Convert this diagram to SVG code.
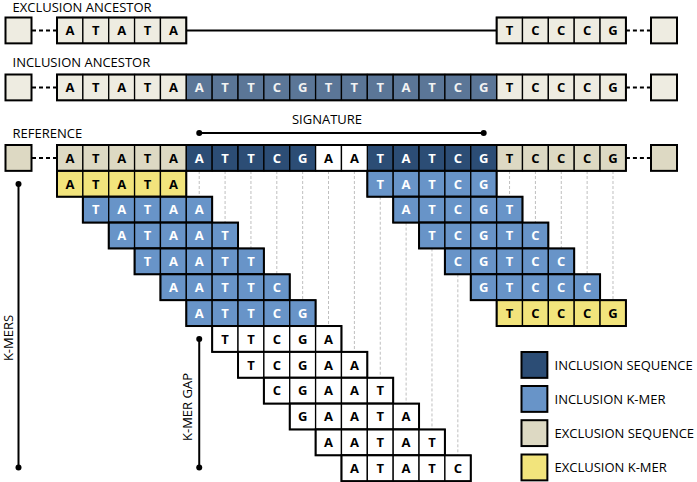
<svg xmlns="http://www.w3.org/2000/svg" width="697" height="482" viewBox="0 0 697 482">
<style>
.lbl{font-family:"Open Sans","Liberation Sans",sans-serif;font-size:13px;fill:#000}
.b{font-family:"Open Sans","Liberation Sans",sans-serif;font-size:13px;font-weight:700;text-anchor:middle}
.k{fill:#000}.w{fill:#fff}
.c{stroke:#000;stroke-width:1.3}
.o{fill:none;stroke:#000;stroke-width:2}
.exA{fill:#EEECE1}.exR{fill:#DDD9C3}.inA{fill:#5B7697}.inR{fill:#2C4D75}.km{fill:#6894C8}.ye{fill:#F2E47C}.wh{fill:#fff}
.dash{stroke:#000;stroke-width:2;stroke-dasharray:4 3}
.g{stroke:#BFBFBF;stroke-width:1;stroke-dasharray:3 2}
.ln{stroke:#000;stroke-width:2}
</style>
<defs>
<rect id="cell" width="25.86" height="25.86"/>
</defs>

<g id="labels">
<text class="lbl" x="12.5" y="12">EXCLUSION ANCESTOR</text>
<text class="lbl" x="12.5" y="66.5">INCLUSION ANCESTOR</text>
<text class="lbl" x="12.5" y="138">REFERENCE</text>
<text class="lbl" x="327" y="123.5" text-anchor="middle">SIGNATURE</text>
<text class="lbl" transform="translate(12.5,338) rotate(-90)" text-anchor="middle">K-MERS</text>
<text class="lbl" transform="translate(192,407) rotate(-90)" text-anchor="middle">K-MER GAP</text>
</g>

<g id="connectors">
<line class="dash" x1="32" y1="30.4" x2="57" y2="30.4"/>
<line class="ln" x1="186.3" y1="30.4" x2="496.62" y2="30.4"/>
<line class="dash" x1="625.92" y1="30.4" x2="651" y2="30.4"/>
<line class="dash" x1="32" y1="87.4" x2="57" y2="87.4"/>
<line class="dash" x1="625.92" y1="87.4" x2="651" y2="87.4"/>
<line class="dash" x1="32" y1="157.9" x2="57" y2="157.9"/>
<line class="dash" x1="625.92" y1="157.9" x2="651" y2="157.9"/>
<line class="ln" x1="199.23" y1="133" x2="483.69" y2="133"/>
<circle cx="199.23" cy="133" r="3"/><circle cx="483.69" cy="133" r="3"/>
<line class="ln" x1="18.5" y1="184" x2="18.5" y2="467.5"/>
<circle cx="18.5" cy="184" r="3"/><circle cx="18.5" cy="467.5" r="3"/>
<line class="ln" x1="199.23" y1="339" x2="199.23" y2="467.5"/>
<circle cx="199.23" cy="339" r="3"/><circle cx="199.23" cy="467.5" r="3"/>
<g id="guides">
<line class="g" x1="199.23" y1="171" x2="199.23" y2="196.72"/>
<line class="g" x1="225.09" y1="171" x2="225.09" y2="222.58"/>
<line class="g" x1="250.95" y1="171" x2="250.95" y2="248.44"/>
<line class="g" x1="276.81" y1="171" x2="276.81" y2="274.3"/>
<line class="g" x1="302.67" y1="171" x2="302.67" y2="300.16"/>
<line class="g" x1="328.53" y1="171" x2="328.53" y2="326.02"/>
<line class="g" x1="354.39" y1="171" x2="354.39" y2="351.88"/>
<line class="g" x1="380.25" y1="196.72" x2="380.25" y2="377.74"/>
<line class="g" x1="406.11" y1="222.58" x2="406.11" y2="403.6"/>
<line class="g" x1="431.97" y1="248.44" x2="431.97" y2="429.46"/>
<line class="g" x1="457.83" y1="274.3" x2="457.83" y2="455.32"/>
<line class="g" x1="509.55" y1="171" x2="509.55" y2="196.72"/>
<line class="g" x1="535.41" y1="171" x2="535.41" y2="222.58"/>
<line class="g" x1="561.27" y1="171" x2="561.27" y2="248.44"/>
<line class="g" x1="587.13" y1="171" x2="587.13" y2="274.3"/>
<line class="g" x1="612.99" y1="171" x2="612.99" y2="300.16"/>
</g>
</g>

<g id="exclusion-ancestor">
<rect class="o" x="5.5" y="17.5" width="26" height="25.86" style="fill:#EEECE1"/>
<rect class="o" x="651" y="17.5" width="26" height="25.86" style="fill:#EEECE1"/>
<g class="exA c">
<use href="#cell" x="57" y="17.5"/><use href="#cell" x="82.86" y="17.5"/><use href="#cell" x="108.72" y="17.5"/><use href="#cell" x="134.58" y="17.5"/><use href="#cell" x="160.44" y="17.5"/>
<use href="#cell" x="496.62" y="17.5"/><use href="#cell" x="522.48" y="17.5"/><use href="#cell" x="548.34" y="17.5"/><use href="#cell" x="574.2" y="17.5"/><use href="#cell" x="600.06" y="17.5"/>
</g>
<rect class="o" x="57" y="17.5" width="129.3" height="25.86"/>
<rect class="o" x="496.62" y="17.5" width="129.3" height="25.86"/>
<g class="b k">
<text x="69.93" y="35.1">A</text><text x="95.79" y="35.1">T</text><text x="121.65" y="35.1">A</text><text x="147.51" y="35.1">T</text><text x="173.37" y="35.1">A</text>
<text x="509.55" y="35.1">T</text><text x="535.41" y="35.1">C</text><text x="561.27" y="35.1">C</text><text x="587.13" y="35.1">C</text><text x="612.99" y="35.1">G</text>
</g>
</g>

<g id="inclusion-ancestor">
<rect class="o" x="5.5" y="74.5" width="26" height="25.86" style="fill:#EEECE1"/>
<rect class="o" x="651" y="74.5" width="26" height="25.86" style="fill:#EEECE1"/>
<g class="exA c">
<use href="#cell" x="57" y="74.5"/><use href="#cell" x="82.86" y="74.5"/><use href="#cell" x="108.72" y="74.5"/><use href="#cell" x="134.58" y="74.5"/><use href="#cell" x="160.44" y="74.5"/>
<use href="#cell" x="496.62" y="74.5"/><use href="#cell" x="522.48" y="74.5"/><use href="#cell" x="548.34" y="74.5"/><use href="#cell" x="574.2" y="74.5"/><use href="#cell" x="600.06" y="74.5"/>
</g>
<g class="inA c">
<use href="#cell" x="186.3" y="74.5"/><use href="#cell" x="212.16" y="74.5"/><use href="#cell" x="238.02" y="74.5"/><use href="#cell" x="263.88" y="74.5"/><use href="#cell" x="289.74" y="74.5"/><use href="#cell" x="315.6" y="74.5"/>
<use href="#cell" x="341.46" y="74.5"/><use href="#cell" x="367.32" y="74.5"/><use href="#cell" x="393.18" y="74.5"/><use href="#cell" x="419.04" y="74.5"/><use href="#cell" x="444.9" y="74.5"/><use href="#cell" x="470.76" y="74.5"/>
</g>
<rect class="o" x="57" y="74.5" width="568.92" height="25.86"/>
<g class="b k">
<text x="69.93" y="92.1">A</text><text x="95.79" y="92.1">T</text><text x="121.65" y="92.1">A</text><text x="147.51" y="92.1">T</text><text x="173.37" y="92.1">A</text>
<text x="509.55" y="92.1">T</text><text x="535.41" y="92.1">C</text><text x="561.27" y="92.1">C</text><text x="587.13" y="92.1">C</text><text x="612.99" y="92.1">G</text>
</g>
<g class="b w" style="fill:#F2F2F2">
<text x="199.23" y="92.1">A</text><text x="225.09" y="92.1">T</text><text x="250.95" y="92.1">T</text><text x="276.81" y="92.1">C</text><text x="302.67" y="92.1">G</text><text x="328.53" y="92.1">T</text>
<text x="354.39" y="92.1">T</text><text x="380.25" y="92.1">T</text><text x="406.11" y="92.1">A</text><text x="431.97" y="92.1">T</text><text x="457.83" y="92.1">C</text><text x="483.69" y="92.1">G</text>
</g>
</g>

<g id="reference">
<rect class="o" x="5.5" y="145" width="26" height="25.86" style="fill:#DDD9C3"/>
<rect class="o" x="651" y="145" width="26" height="25.86" style="fill:#DDD9C3"/>
<g class="exR c">
<use href="#cell" x="57" y="145"/><use href="#cell" x="82.86" y="145"/><use href="#cell" x="108.72" y="145"/><use href="#cell" x="134.58" y="145"/><use href="#cell" x="160.44" y="145"/>
<use href="#cell" x="496.62" y="145"/><use href="#cell" x="522.48" y="145"/><use href="#cell" x="548.34" y="145"/><use href="#cell" x="574.2" y="145"/><use href="#cell" x="600.06" y="145"/>
</g>
<g class="inR c">
<use href="#cell" x="186.3" y="145"/><use href="#cell" x="212.16" y="145"/><use href="#cell" x="238.02" y="145"/><use href="#cell" x="263.88" y="145"/><use href="#cell" x="289.74" y="145"/>
<use href="#cell" x="367.32" y="145"/><use href="#cell" x="393.18" y="145"/><use href="#cell" x="419.04" y="145"/><use href="#cell" x="444.9" y="145"/><use href="#cell" x="470.76" y="145"/>
</g>
<g class="wh c">
<use href="#cell" x="315.6" y="145"/><use href="#cell" x="341.46" y="145"/>
</g>
<rect class="o" x="57" y="145" width="568.92" height="25.86"/>
<g class="b k">
<text x="69.93" y="162.6">A</text><text x="95.79" y="162.6">T</text><text x="121.65" y="162.6">A</text><text x="147.51" y="162.6">T</text><text x="173.37" y="162.6">A</text>
<text x="328.53" y="162.6">A</text><text x="354.39" y="162.6">A</text>
<text x="509.55" y="162.6">T</text><text x="535.41" y="162.6">C</text><text x="561.27" y="162.6">C</text><text x="587.13" y="162.6">C</text><text x="612.99" y="162.6">G</text>
</g>
<g class="b w">
<text x="199.23" y="162.6">A</text><text x="225.09" y="162.6">T</text><text x="250.95" y="162.6">T</text><text x="276.81" y="162.6">C</text><text x="302.67" y="162.6">G</text>
<text x="380.25" y="162.6">T</text><text x="406.11" y="162.6">A</text><text x="431.97" y="162.6">T</text><text x="457.83" y="162.6">C</text><text x="483.69" y="162.6">G</text>
</g>
</g>

<g id="kmers-left">
<g id="kmer-L1">
<g class="ye c"><use href="#cell" x="57" y="170.86"/><use href="#cell" x="82.86" y="170.86"/><use href="#cell" x="108.72" y="170.86"/><use href="#cell" x="134.58" y="170.86"/><use href="#cell" x="160.44" y="170.86"/></g>
<rect class="o" x="57" y="170.86" width="129.3" height="25.86"/>
<g class="b k"><text x="69.93" y="188.5">A</text><text x="95.79" y="188.5">T</text><text x="121.65" y="188.5">A</text><text x="147.51" y="188.5">T</text><text x="173.37" y="188.5">A</text></g>
</g>
<g id="kmer-L2">
<g class="km c"><use href="#cell" x="82.86" y="196.72"/><use href="#cell" x="108.72" y="196.72"/><use href="#cell" x="134.58" y="196.72"/><use href="#cell" x="160.44" y="196.72"/><use href="#cell" x="186.3" y="196.72"/></g>
<rect class="o" x="82.86" y="196.72" width="129.3" height="25.86"/>
<g class="b w"><text x="95.79" y="214.3">T</text><text x="121.65" y="214.3">A</text><text x="147.51" y="214.3">T</text><text x="173.37" y="214.3">A</text><text x="199.23" y="214.3">A</text></g>
</g>
<g id="kmer-L3">
<g class="km c"><use href="#cell" x="108.72" y="222.58"/><use href="#cell" x="134.58" y="222.58"/><use href="#cell" x="160.44" y="222.58"/><use href="#cell" x="186.3" y="222.58"/><use href="#cell" x="212.16" y="222.58"/></g>
<rect class="o" x="108.72" y="222.58" width="129.3" height="25.86"/>
<g class="b w"><text x="121.65" y="240.2">A</text><text x="147.51" y="240.2">T</text><text x="173.37" y="240.2">A</text><text x="199.23" y="240.2">A</text><text x="225.09" y="240.2">T</text></g>
</g>
<g id="kmer-L4">
<g class="km c"><use href="#cell" x="134.58" y="248.44"/><use href="#cell" x="160.44" y="248.44"/><use href="#cell" x="186.3" y="248.44"/><use href="#cell" x="212.16" y="248.44"/><use href="#cell" x="238.02" y="248.44"/></g>
<rect class="o" x="134.58" y="248.44" width="129.3" height="25.86"/>
<g class="b w"><text x="147.51" y="266">T</text><text x="173.37" y="266">A</text><text x="199.23" y="266">A</text><text x="225.09" y="266">T</text><text x="250.95" y="266">T</text></g>
</g>
<g id="kmer-L5">
<g class="km c"><use href="#cell" x="160.44" y="274.3"/><use href="#cell" x="186.3" y="274.3"/><use href="#cell" x="212.16" y="274.3"/><use href="#cell" x="238.02" y="274.3"/><use href="#cell" x="263.88" y="274.3"/></g>
<rect class="o" x="160.44" y="274.3" width="129.3" height="25.86"/>
<g class="b w"><text x="173.37" y="291.9">A</text><text x="199.23" y="291.9">A</text><text x="225.09" y="291.9">T</text><text x="250.95" y="291.9">T</text><text x="276.81" y="291.9">C</text></g>
</g>
<g id="kmer-L6">
<g class="km c"><use href="#cell" x="186.3" y="300.16"/><use href="#cell" x="212.16" y="300.16"/><use href="#cell" x="238.02" y="300.16"/><use href="#cell" x="263.88" y="300.16"/><use href="#cell" x="289.74" y="300.16"/></g>
<rect class="o" x="186.3" y="300.16" width="129.3" height="25.86"/>
<g class="b w"><text x="199.23" y="317.8">A</text><text x="225.09" y="317.8">T</text><text x="250.95" y="317.8">T</text><text x="276.81" y="317.8">C</text><text x="302.67" y="317.8">G</text></g>
</g>
<g id="kmer-L7">
<g class="wh c"><use href="#cell" x="212.16" y="326.02"/><use href="#cell" x="238.02" y="326.02"/><use href="#cell" x="263.88" y="326.02"/><use href="#cell" x="289.74" y="326.02"/><use href="#cell" x="315.6" y="326.02"/></g>
<rect class="o" x="212.16" y="326.02" width="129.3" height="25.86"/>
<g class="b k"><text x="225.09" y="343.6">T</text><text x="250.95" y="343.6">T</text><text x="276.81" y="343.6">C</text><text x="302.67" y="343.6">G</text><text x="328.53" y="343.6">A</text></g>
</g>
<g id="kmer-L8">
<g class="wh c"><use href="#cell" x="238.02" y="351.88"/><use href="#cell" x="263.88" y="351.88"/><use href="#cell" x="289.74" y="351.88"/><use href="#cell" x="315.6" y="351.88"/><use href="#cell" x="341.46" y="351.88"/></g>
<rect class="o" x="238.02" y="351.88" width="129.3" height="25.86"/>
<g class="b k"><text x="250.95" y="369.5">T</text><text x="276.81" y="369.5">C</text><text x="302.67" y="369.5">G</text><text x="328.53" y="369.5">A</text><text x="354.39" y="369.5">A</text></g>
</g>
<g id="kmer-L9">
<g class="wh c"><use href="#cell" x="263.88" y="377.74"/><use href="#cell" x="289.74" y="377.74"/><use href="#cell" x="315.6" y="377.74"/><use href="#cell" x="341.46" y="377.74"/><use href="#cell" x="367.32" y="377.74"/></g>
<rect class="o" x="263.88" y="377.74" width="129.3" height="25.86"/>
<g class="b k"><text x="276.81" y="395.3">C</text><text x="302.67" y="395.3">G</text><text x="328.53" y="395.3">A</text><text x="354.39" y="395.3">A</text><text x="380.25" y="395.3">T</text></g>
</g>
<g id="kmer-L10">
<g class="wh c"><use href="#cell" x="289.74" y="403.6"/><use href="#cell" x="315.6" y="403.6"/><use href="#cell" x="341.46" y="403.6"/><use href="#cell" x="367.32" y="403.6"/><use href="#cell" x="393.18" y="403.6"/></g>
<rect class="o" x="289.74" y="403.6" width="129.3" height="25.86"/>
<g class="b k"><text x="302.67" y="421.2">G</text><text x="328.53" y="421.2">A</text><text x="354.39" y="421.2">A</text><text x="380.25" y="421.2">T</text><text x="406.11" y="421.2">A</text></g>
</g>
<g id="kmer-L11">
<g class="wh c"><use href="#cell" x="315.6" y="429.46"/><use href="#cell" x="341.46" y="429.46"/><use href="#cell" x="367.32" y="429.46"/><use href="#cell" x="393.18" y="429.46"/><use href="#cell" x="419.04" y="429.46"/></g>
<rect class="o" x="315.6" y="429.46" width="129.3" height="25.86"/>
<g class="b k"><text x="328.53" y="447.1">A</text><text x="354.39" y="447.1">A</text><text x="380.25" y="447.1">T</text><text x="406.11" y="447.1">A</text><text x="431.97" y="447.1">T</text></g>
</g>
<g id="kmer-L12">
<g class="wh c"><use href="#cell" x="341.46" y="455.32"/><use href="#cell" x="367.32" y="455.32"/><use href="#cell" x="393.18" y="455.32"/><use href="#cell" x="419.04" y="455.32"/><use href="#cell" x="444.9" y="455.32"/></g>
<rect class="o" x="341.46" y="455.32" width="129.3" height="25.86"/>
<g class="b k"><text x="354.39" y="472.9">A</text><text x="380.25" y="472.9">T</text><text x="406.11" y="472.9">A</text><text x="431.97" y="472.9">T</text><text x="457.83" y="472.9">C</text></g>
</g>
</g>

<g id="kmers-right">
<g id="kmer-R1">
<g class="km c"><use href="#cell" x="367.32" y="170.86"/><use href="#cell" x="393.18" y="170.86"/><use href="#cell" x="419.04" y="170.86"/><use href="#cell" x="444.9" y="170.86"/><use href="#cell" x="470.76" y="170.86"/></g>
<rect class="o" x="367.32" y="170.86" width="129.3" height="25.86"/>
<g class="b w"><text x="380.25" y="188.5">T</text><text x="406.11" y="188.5">A</text><text x="431.97" y="188.5">T</text><text x="457.83" y="188.5">C</text><text x="483.69" y="188.5">G</text></g>
</g>
<g id="kmer-R2">
<g class="km c"><use href="#cell" x="393.18" y="196.72"/><use href="#cell" x="419.04" y="196.72"/><use href="#cell" x="444.9" y="196.72"/><use href="#cell" x="470.76" y="196.72"/><use href="#cell" x="496.62" y="196.72"/></g>
<rect class="o" x="393.18" y="196.72" width="129.3" height="25.86"/>
<g class="b w"><text x="406.11" y="214.3">A</text><text x="431.97" y="214.3">T</text><text x="457.83" y="214.3">C</text><text x="483.69" y="214.3">G</text><text x="509.55" y="214.3">T</text></g>
</g>
<g id="kmer-R3">
<g class="km c"><use href="#cell" x="419.04" y="222.58"/><use href="#cell" x="444.9" y="222.58"/><use href="#cell" x="470.76" y="222.58"/><use href="#cell" x="496.62" y="222.58"/><use href="#cell" x="522.48" y="222.58"/></g>
<rect class="o" x="419.04" y="222.58" width="129.3" height="25.86"/>
<g class="b w"><text x="431.97" y="240.2">T</text><text x="457.83" y="240.2">C</text><text x="483.69" y="240.2">G</text><text x="509.55" y="240.2">T</text><text x="535.41" y="240.2">C</text></g>
</g>
<g id="kmer-R4">
<g class="km c"><use href="#cell" x="444.9" y="248.44"/><use href="#cell" x="470.76" y="248.44"/><use href="#cell" x="496.62" y="248.44"/><use href="#cell" x="522.48" y="248.44"/><use href="#cell" x="548.34" y="248.44"/></g>
<rect class="o" x="444.9" y="248.44" width="129.3" height="25.86"/>
<g class="b w"><text x="457.83" y="266">C</text><text x="483.69" y="266">G</text><text x="509.55" y="266">T</text><text x="535.41" y="266">C</text><text x="561.27" y="266">C</text></g>
</g>
<g id="kmer-R5">
<g class="km c"><use href="#cell" x="470.76" y="274.3"/><use href="#cell" x="496.62" y="274.3"/><use href="#cell" x="522.48" y="274.3"/><use href="#cell" x="548.34" y="274.3"/><use href="#cell" x="574.2" y="274.3"/></g>
<rect class="o" x="470.76" y="274.3" width="129.3" height="25.86"/>
<g class="b w"><text x="483.69" y="291.9">G</text><text x="509.55" y="291.9">T</text><text x="535.41" y="291.9">C</text><text x="561.27" y="291.9">C</text><text x="587.13" y="291.9">C</text></g>
</g>
<g id="kmer-R6">
<g class="ye c"><use href="#cell" x="496.62" y="300.16"/><use href="#cell" x="522.48" y="300.16"/><use href="#cell" x="548.34" y="300.16"/><use href="#cell" x="574.2" y="300.16"/><use href="#cell" x="600.06" y="300.16"/></g>
<rect class="o" x="496.62" y="300.16" width="129.3" height="25.86"/>
<g class="b k"><text x="509.55" y="317.8">T</text><text x="535.41" y="317.8">C</text><text x="561.27" y="317.8">C</text><text x="587.13" y="317.8">C</text><text x="612.99" y="317.8">G</text></g>
</g>
</g>

<g id="legend">
<g id="legend-inclusion-sequence"><rect class="o" x="521.5" y="352" width="25.86" height="25.86" style="fill:#2C4D75"/><text class="lbl" x="554.5" y="369.8">INCLUSION SEQUENCE</text></g>
<g id="legend-inclusion-kmer"><rect class="o" x="521.5" y="386" width="25.86" height="25.86" style="fill:#6894C8"/><text class="lbl" x="554.5" y="403.8">INCLUSION K-MER</text></g>
<g id="legend-exclusion-sequence"><rect class="o" x="521.5" y="420.2" width="25.86" height="25.86" style="fill:#DDD9C3"/><text class="lbl" x="554.5" y="438">EXCLUSION SEQUENCE</text></g>
<g id="legend-exclusion-kmer"><rect class="o" x="521.5" y="454.5" width="25.86" height="25.86" style="fill:#F2E47C"/><text class="lbl" x="554.5" y="472.3">EXCLUSION K-MER</text></g>
</g>
</svg>
